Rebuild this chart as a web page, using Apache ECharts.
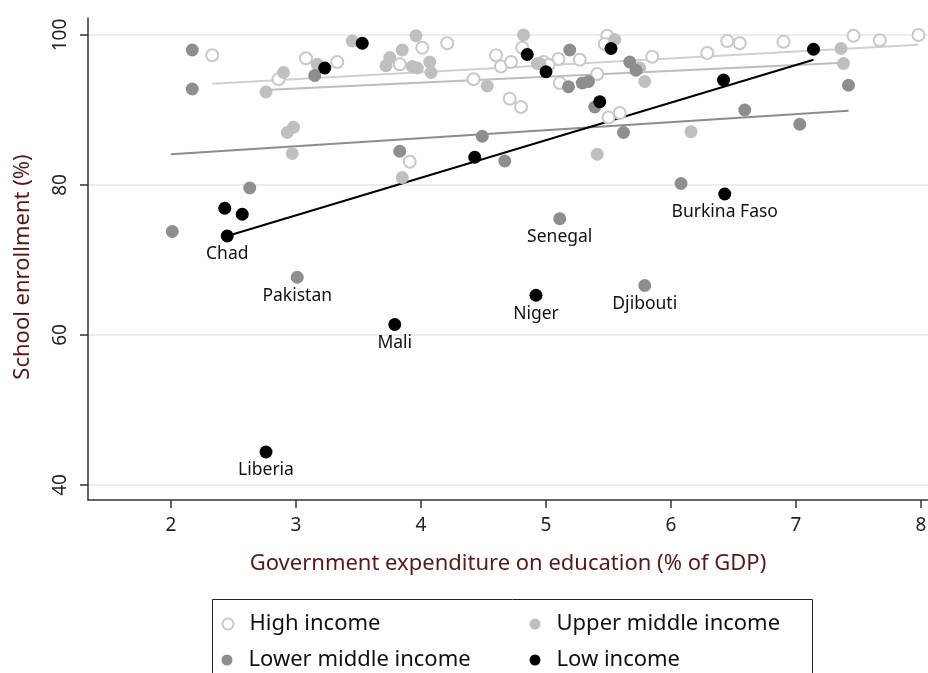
<!DOCTYPE html>
<html><head><meta charset="utf-8">
<script src="https://cdn.jsdelivr.net/npm/echarts@6/dist/echarts.min.js"></script>
<style>html,body{margin:0;padding:0;background:#fff}#c{width:928px;height:673px}</style>
</head><body><div id="c"></div>
<script>
// ---- data ----
const xTicks = [2, 3, 4, 5, 6, 7, 8];
const yTicks = [40, 60, 80, 100];
const highIncome = [[2.33,97.3],[2.86,94.1],[3.08,96.9],[3.33,96.4],[4.01,98.3],[4.21,98.9],[3.83,96.1],[4.42,94.1],[4.60,97.3],[4.64,95.8],[4.72,96.4],[4.81,98.3],[4.71,91.5],[4.80,90.4],[5.49,99.9],[5.47,98.8],[5.10,96.8],[5.27,96.7],[4.98,96.4],[5.02,96.0],[5.85,97.1],[6.29,97.6],[6.45,99.2],[6.55,98.9],[5.41,94.8],[5.11,93.6],[5.50,89.0],[5.59,89.6],[6.90,99.1],[7.46,99.9],[7.67,99.3],[7.98,100],[3.91,83.1]];
const upperMiddle = [[2.76,92.4],[2.90,95.0],[2.93,87.0],[2.98,87.7],[2.97,84.2],[3.17,96.1],[3.45,99.2],[3.96,99.9],[3.85,98.0],[3.75,97.0],[3.72,95.9],[3.93,95.8],[3.97,95.6],[4.07,96.4],[4.08,95.0],[4.53,93.2],[4.82,100],[4.93,96.2],[4.95,96.2],[5.55,99.4],[5.75,95.6],[5.79,93.8],[6.16,87.1],[5.41,84.1],[3.85,81.0],[7.36,98.2],[7.38,96.2]];
const lowerMiddle = [[2.17,98.0,''],[2.17,92.8,''],[3.15,94.6,''],[2.63,79.6,''],[2.01,73.8,''],[3.01,67.7,'Pakistan'],[3.83,84.5,''],[4.49,86.5,''],[4.67,83.2,''],[5.19,98.0,''],[5.18,93.1,''],[5.29,93.6,''],[5.34,93.8,''],[5.67,96.4,''],[5.72,95.3,''],[5.39,90.4,''],[5.62,87.0,''],[6.08,80.2,''],[5.11,75.5,'Senegal'],[5.79,66.6,'Djibouti'],[6.59,90.0,''],[7.03,88.1,''],[7.42,93.3,'']];
const lowIncome = [[2.45,73.2,'Chad'],[2.43,76.9,''],[2.57,76.1,''],[2.76,44.4,'Liberia'],[3.23,95.6,''],[3.53,98.9,''],[3.79,61.4,'Mali'],[4.43,83.7,''],[4.85,97.4,''],[5.00,95.1,''],[4.92,65.3,'Niger'],[5.43,91.1,''],[5.52,98.2,''],[6.42,94.0,''],[6.43,78.8,'Burkina Faso'],[7.14,98.1,'']];
const highFit = [[2.33,93.5],[7.98,98.7]];
const upperFit = [[2.79,92.7],[7.38,96.3]];
const lowerFit = [[2.00,84.1],[7.42,89.9]];
const lowFit = [[2.45,73.2],[7.14,96.7]];
const groupNames = ['High income','Upper middle income','Lower middle income','Low income'];

// ---- chart ----
const FONT = 'Noto Sans';
const TITLE = '#5a1717';
const chart = echarts.init(document.getElementById('c'), null, {renderer:'canvas'});
const lbl = {show:true, position:'bottom', distance:3, fontSize:17.5, color:'#111', fontFamily:FONT,
  formatter: p => p.data[2] || ''};
function fitLine(name, data, color){
  return {name, type:'line', data, symbol:'none', silent:true, z:1,
    lineStyle:{color, width:2}, animation:false};
}
const legendText = {fontSize:22, color:'#111', fontFamily:FONT, padding:[0,0,0,11]};
function leg(name, left, top){
  return {data:[name], orient:'horizontal', left, top, itemWidth:11, itemHeight:11,
    padding:0, textStyle:legendText};
}
chart.setOption({
  animation:false,
  textStyle:{fontFamily:FONT},
  grid:{left:88, right:0, top:18, bottom:173, containLabel:false, outerBoundsMode:'none'},
  xAxis:{type:'value', min:1.336, max:8.056,
    name:'Government expenditure on education (% of GDP)', nameLocation:'middle', nameGap:53,
    nameTextStyle:{fontSize:22, color:TITLE, fontFamily:FONT},
    axisLine:{show:true, onZero:false, lineStyle:{color:'#333', width:1.5}},
    axisTick:{show:true, length:8, customValues:xTicks, lineStyle:{color:'#333', width:1.5}},
    axisLabel:{customValues:xTicks, fontSize:19, color:'#222', margin:16, fontFamily:FONT},
    splitLine:{show:false}},
  yAxis:{type:'value', min:38, max:102.267,
    name:'School enrollment (%)', nameLocation:'middle', nameGap:54, nameRotate:90,
    nameTextStyle:{fontSize:22, color:TITLE, fontFamily:FONT, padding:[0,16,0,0]},
    axisLine:{show:true, onZero:false, lineStyle:{color:'#333', width:1.5}},
    axisTick:{show:true, length:8, customValues:yTicks, lineStyle:{color:'#333', width:1.5}},
    axisLabel:{customValues:yTicks, fontSize:19, color:'#222', rotate:90, margin:18, fontFamily:FONT},
    splitLine:{show:true, lineStyle:{color:'#e6e6e6', width:1.5}}},
  legend:[
    leg(groupNames[0], 221.5, 613),
    leg(groupNames[2], 221.5, 649),
    leg(groupNames[1], 529.5, 613),
    leg(groupNames[3], 529.5, 649)
  ],
  graphic:[{type:'rect', shape:{x:212.5, y:599.5, width:600, height:100},
    style:{fill:'none', stroke:'#222', lineWidth:1}, silent:true}],
  series:[
    fitLine('High fit', highFit, '#cfcfcf'),
    fitLine('Upper fit', upperFit, '#bdbdbd'),
    fitLine('Lower fit', lowerFit, '#8c8c8c'),
    fitLine('Low fit', lowFit, '#000'),
    {name:groupNames[0], type:'scatter', data:highIncome, symbolSize:12, z:2,
      itemStyle:{color:'#fff', borderColor:'#c8c8c8', borderWidth:2, opacity:1}},
    {name:groupNames[1], type:'scatter', data:upperMiddle, symbolSize:13, z:3,
      itemStyle:{color:'#bfbfbf', opacity:1}},
    {name:groupNames[2], type:'scatter', data:lowerMiddle, symbolSize:13, z:4,
      itemStyle:{color:'#8e8e8e', opacity:1}, label:lbl},
    {name:groupNames[3], type:'scatter', data:lowIncome, symbolSize:13, z:5,
      itemStyle:{color:'#000', opacity:1}, label:lbl}
  ]
});
</script></body></html>
